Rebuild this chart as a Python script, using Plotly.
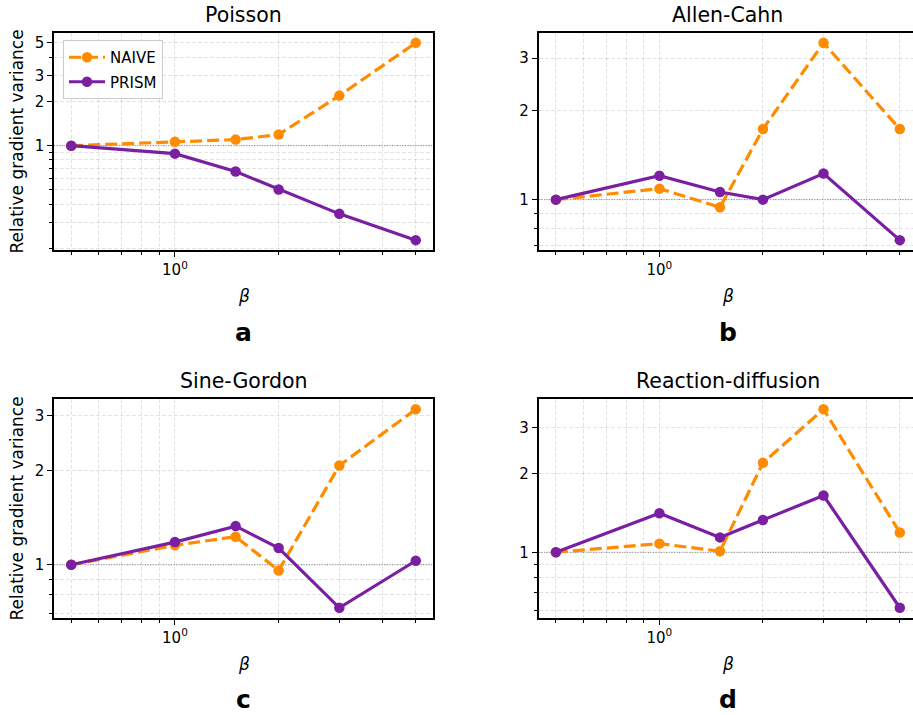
import numpy as np
import plotly.graph_objects as go

# ---------------- data ----------------
beta = [0.5, 1.0, 1.5, 2.0, 3.0, 5.0]

titles = ["Poisson", "Allen-Cahn", "Sine-Gordon", "Reaction-diffusion"]
letters = ["a", "b", "c", "d"]

poisson_naive = [1.0, 1.064, 1.10, 1.19, 2.19, 5.0]
poisson_prism = [1.0, 0.883, 0.667, 0.504, 0.344, 0.228]
allen_naive = [1.0, 1.089, 0.942, 1.73, 3.38, 1.73]
allen_prism = [1.0, 1.204, 1.061, 1.0, 1.225, 0.730]
sg_naive = [1.0, 1.154, 1.23, 0.959, 2.08, 3.15]
sg_prism = [1.0, 1.182, 1.33, 1.131, 0.728, 1.03]
rd_naive = [1.0, 1.079, 1.009, 2.20, 3.53, 1.19]
rd_prism = [1.0, 1.41, 1.14, 1.33, 1.65, 0.613]

naive_series = [poisson_naive, allen_naive, sg_naive, rd_naive]
prism_series = [poisson_prism, allen_prism, sg_prism, rd_prism]

y_major = [[1, 2, 3, 5], [1, 2, 3], [1, 2, 3], [1, 2, 3]]
y_minor_all = [0.2, 0.3, 0.4, 0.5, 0.6, 0.7, 0.8, 0.9, 4, 6, 7, 8, 9]
x_major = [1]
x_major_text = ["10<sup>0</sup>"]
x_minor = [0.5, 0.6, 0.7, 0.8, 0.9, 2, 3, 4, 5]

# ---------------- style ----------------
W, H = 913, 715
ORANGE = "#FF8C00"
PURPLE = "#7B1FA2"
FONT = "DejaVu Sans"
GRID = "rgba(0,0,0,0.11)"

# panel boxes in px: (left, right_full, top, bottom)
boxes = [
    (54.0, 433.0, 33.0, 250.0),
    (538.7, 917.0, 33.0, 250.0),
    (54.0, 433.0, 399.3, 617.7),
    (538.7, 917.0, 399.3, 617.7),
]

fig = go.Figure()
annotations = []
shapes = []

for i in range(4):
    n = i + 1
    xa = "x" if n == 1 else f"x{n}"
    ya = "y" if n == 1 else f"y{n}"
    left, right_full, top, bottom = boxes[i]
    right = min(right_full, W)

    naive = naive_series[i]
    prism = prism_series[i]

    fig.add_trace(go.Scatter(
        x=beta, y=naive, mode="lines+markers", name="NAIVE",
        line=dict(color=ORANGE, width=3.2, dash="12px,5px"),
        marker=dict(color=ORANGE, size=10.5),
        xaxis=xa, yaxis=ya, showlegend=(i == 0), legendgroup="naive"))
    fig.add_trace(go.Scatter(
        x=beta, y=prism, mode="lines+markers", name="PRISM",
        line=dict(color=PURPLE, width=3.2),
        marker=dict(color=PURPLE, size=10.5),
        xaxis=xa, yaxis=ya, showlegend=(i == 0), legendgroup="prism"))

    # ranges with matplotlib-like 5% margins (log space)
    lx = np.log10(beta)
    lo, hi = lx.min(), lx.max()
    m = 0.05 * (hi - lo)
    xr0, xr1 = lo - m, hi + m
    xr1 = xr0 + (xr1 - xr0) * (right - left) / (right_full - left)
    ly = np.log10(np.concatenate([naive, prism]))
    ylo, yhi = ly.min(), ly.max()
    my = 0.05 * (yhi - ylo)
    yr = [float(ylo - my), float(yhi + my)]

    y_minor = [v for v in y_minor_all if yr[0] <= np.log10(v) <= yr[1] and v not in y_major[i]]

    xdom = [left / W, right / W]
    ydom = [1 - bottom / H, 1 - top / H]
    right_panel = i in (1, 3)

    xkey = "xaxis" if n == 1 else f"xaxis{n}"
    ykey = "yaxis" if n == 1 else f"yaxis{n}"
    fig.update_layout(**{
        xkey: dict(
            type="log", range=[float(xr0), float(xr1)], domain=xdom, anchor=ya,
            showline=True, linecolor="black", linewidth=1.6, mirror=True,
            ticks="outside", ticklen=5, tickwidth=1.2, tickcolor="black",
            tickmode="array", tickvals=x_major, ticktext=x_major_text,
            tickfont=dict(family=FONT, size=15, color="black"),
            showgrid=True, gridcolor=GRID, griddash="4px,2px", gridwidth=1,
            zeroline=False,
            minor=dict(tickmode="array", tickvals=x_minor, ticks="outside",
                       ticklen=3, tickwidth=1, tickcolor="black",
                       showgrid=True, gridcolor=GRID, griddash="4px,2px", gridwidth=1),
        ),
        ykey: dict(
            type="log", range=yr, domain=ydom, anchor=xa,
            showline=True, linecolor="black", linewidth=1.6,
            mirror=(not right_panel),
            ticks="outside", ticklen=5, tickwidth=1.2, tickcolor="black",
            tickmode="array", tickvals=y_major[i], ticktext=[str(v) for v in y_major[i]],
            tickfont=dict(family=FONT, size=15, color="black"),
            showgrid=True, gridcolor=GRID, griddash="4px,2px", gridwidth=1,
            zeroline=False,
            minor=dict(tickmode="array", tickvals=y_minor, ticks="outside",
                       ticklen=3, tickwidth=1, tickcolor="black",
                       showgrid=True, gridcolor=GRID, griddash="4px,2px", gridwidth=1),
        ),
    })

    # reference line at 1
    shapes.append(dict(type="line", xref=f"{xa} domain", yref=ya, x0=0, x1=1, y0=1, y1=1,
                       line=dict(color="rgba(110,110,110,0.85)", width=1, dash="1px,1.6px"),
                       layer="below"))

    cx = ((left + right_full) / 2) / W
    # title
    annotations.append(dict(text=titles[i], x=cx, y=1 - (top - 18) / H, xref="paper", yref="paper",
                            xanchor="center", yanchor="middle", showarrow=False,
                            font=dict(family=FONT, size=20.5, color="black")))
    # x label
    annotations.append(dict(text="<i>β</i>", x=cx, y=1 - (bottom + 46) / H, xref="paper", yref="paper",
                            xanchor="center", yanchor="middle", showarrow=False,
                            font=dict(family=FONT, size=17, color="black")))
    # panel letter
    annotations.append(dict(text=f"<b>{letters[i]}</b>", x=cx, y=1 - (bottom + 82) / H,
                            xref="paper", yref="paper", xanchor="center", yanchor="middle",
                            showarrow=False, font=dict(family=FONT, size=25, color="black")))
    # y label
    if not right_panel:
        annotations.append(dict(text="Relative gradient variance", x=16 / W,
                                y=1 - ((top + bottom) / 2) / H, xref="paper", yref="paper",
                                xanchor="center", yanchor="middle", textangle=-90, showarrow=False,
                                font=dict(family=FONT, size=17, color="black")))

fig.update_layout(
    width=W, height=H,
    margin=dict(l=0, r=0, t=0, b=0),
    paper_bgcolor="white", plot_bgcolor="white",
    font=dict(family=FONT, color="black"),
    annotations=annotations, shapes=shapes,
    legend=dict(x=63 / W, y=1 - 40 / H, xanchor="left", yanchor="top",
                bgcolor="rgba(255,255,255,0.85)", bordercolor="#cccccc", borderwidth=1,
                font=dict(family=FONT, size=15, color="black"),
                itemwidth=36, tracegroupgap=2),
)

fig.write_html("out.html")
